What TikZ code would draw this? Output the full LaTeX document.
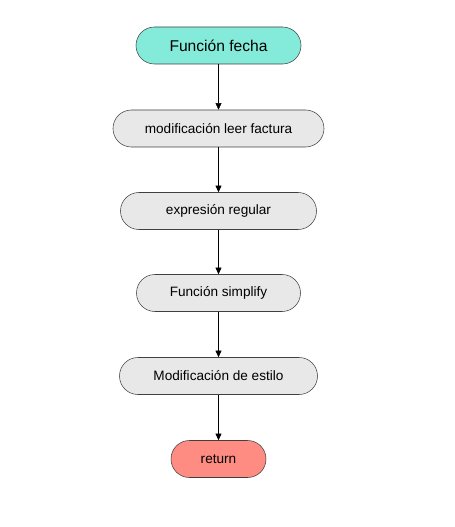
\documentclass[tikz,border=0pt]{standalone}
\usepackage{fontspec}
\setmainfont{Liberation Sans}
\usetikzlibrary{arrows.meta}
\definecolor{startcol}{HTML}{84EBDB}
\definecolor{stepcol}{HTML}{E8E8E8}
\definecolor{endcol}{HTML}{FF8C82}
\tikzset{
  box/.style={draw=black!75, rounded corners=13.8pt, minimum height=27.75pt,
    inner sep=0pt, font=\fontsize{10.2}{12}\selectfont, fill=stepcol},
  flow/.style={-{Triangle[length=5pt,width=4.5pt]}, draw=black}
}
\begin{document}
\begin{tikzpicture}[x=0.75pt,y=-0.75pt]
		\useasboundingbox (0,0) rectangle (454,527);
		\node[box, fill=startcol, minimum width=123.75pt, font=\fontsize{11.7}{13}\selectfont] (fecha) at (218.5,45.5) {Función fecha};
		\node[box, minimum width=158.25pt] (leer) at (218.5,128.5) {modificación leer factura};
		\node[box, minimum width=147pt] (regex) at (218.5,211) {expresión regular};
		\node[box, minimum width=123pt] (simplify) at (218.5,293) {Función simplify};
		\node[box, minimum width=148.5pt] (estilo) at (218.5,376) {Modificación de estilo};
		\node[box, fill=endcol, minimum width=71.25pt] (ret) at (218.5,459) {return};
		\path[flow] (fecha) edge (leer);
		\path[flow] (leer) edge (regex);
		\path[flow] (regex) edge (simplify);
		\path[flow] (simplify) edge (estilo);
		\path[flow] (estilo) edge (ret);
	\end{tikzpicture}
\end{document}
